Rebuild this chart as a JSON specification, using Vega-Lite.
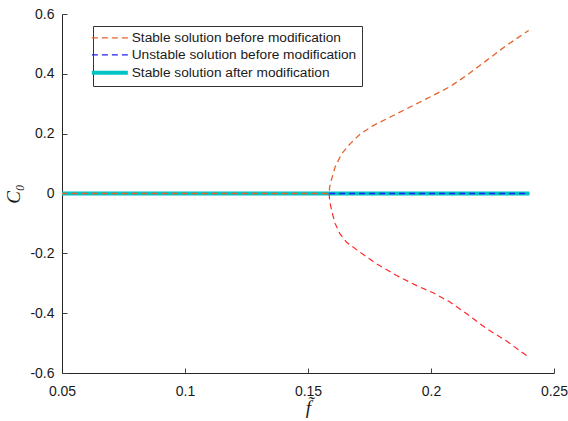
{
  "$schema": "https://vega.github.io/schema/vega-lite/v6.json",
  "width": 492,
  "height": 359,
  "autosize": "none",
  "padding": {"left": 62, "top": 14, "right": 14, "bottom": 48},
  "config": {
    "font": "Liberation Sans",
    "view": {"stroke": null},
    "axis": {
      "grid": false,
      "domainColor": "#262626",
      "tickColor": "#262626",
      "labelColor": "#1a1a1a",
      "labelFontSize": 14,
      "labelFont": "Liberation Sans",
      "labelFlush": false,
      "labelOverlap": false,
      "titleFont": "Liberation Serif",
      "titleFontStyle": "italic",
      "titleFontWeight": "normal",
      "titleFontSize": 19,
      "titleColor": "#1a1a1a",
      "tickSize": 5,
      "tickWidth": 1
    },
    "legend": {
      "orient": "none",
      "legendX": 31,
      "legendY": 12,
      "title": null,
      "symbolType": "M-1.8,0H1.8",
      "symbolSize": 400,
      "symbolOffset": 5,
      "labelFont": "Liberation Sans",
      "labelFontSize": 13.7,
      "labelColor": "#1a1a1a",
      "labelLimit": 400,
      "labelOffset": 15,
      "strokeColor": "#333333",
      "fillColor": "#ffffff",
      "padding": 5,
      "rowPadding": 2
    }
  },
  "data": {
    "values": [
      {"series": "Stable solution after modification", "f": 0.05, "C": 0},
      {"series": "Stable solution after modification", "f": 0.24, "C": 0},
      {"series": "Unstable solution before modification", "f": 0.1586, "C": 0},
      {"series": "Unstable solution before modification", "f": 0.24, "C": 0},
      {"series": "Stable solution before modification", "f": 0.05, "C": 0},
      {"series": "Stable solution before modification", "f": 0.1586, "C": 0},
      {"series": "Stable solution before modification", "f": 0.1588, "C": 0.022},
      {"series": "Stable solution before modification", "f": 0.1596, "C": 0.048},
      {"series": "Stable solution before modification", "f": 0.161, "C": 0.088},
      {"series": "Stable solution before modification", "f": 0.1637, "C": 0.133},
      {"series": "Stable solution before modification", "f": 0.1671, "C": 0.166},
      {"series": "Stable solution before modification", "f": 0.1711, "C": 0.198},
      {"series": "Stable solution before modification", "f": 0.1765, "C": 0.227},
      {"series": "Stable solution before modification", "f": 0.1833, "C": 0.255},
      {"series": "Stable solution before modification", "f": 0.1915, "C": 0.289},
      {"series": "Stable solution before modification", "f": 0.2009, "C": 0.328},
      {"series": "Stable solution before modification", "f": 0.2077, "C": 0.357},
      {"series": "Stable solution before modification", "f": 0.2145, "C": 0.395},
      {"series": "Stable solution before modification", "f": 0.2226, "C": 0.445},
      {"series": "Stable solution before modification", "f": 0.2307, "C": 0.495},
      {"series": "Stable solution before modification", "f": 0.2397, "C": 0.545},
      {"series": "lower", "f": 0.1586, "C": 0},
      {"series": "lower", "f": 0.1588, "C": -0.024},
      {"series": "lower", "f": 0.1596, "C": -0.057},
      {"series": "lower", "f": 0.161, "C": -0.1},
      {"series": "lower", "f": 0.163, "C": -0.135},
      {"series": "lower", "f": 0.1657, "C": -0.163},
      {"series": "lower", "f": 0.1711, "C": -0.196},
      {"series": "lower", "f": 0.1779, "C": -0.235},
      {"series": "lower", "f": 0.186, "C": -0.274},
      {"series": "lower", "f": 0.1942, "C": -0.308},
      {"series": "lower", "f": 0.2009, "C": -0.332},
      {"series": "lower", "f": 0.2077, "C": -0.363},
      {"series": "lower", "f": 0.2145, "C": -0.402},
      {"series": "lower", "f": 0.2226, "C": -0.452},
      {"series": "lower", "f": 0.2307, "C": -0.493},
      {"series": "lower", "f": 0.2397, "C": -0.547}
    ]
  },
  "layer": [
    {
      "transform": [{"filter": "datum.series === 'Stable solution after modification'"}],
      "mark": {"type": "line", "clip": false, "strokeWidth": 4},
      "encoding": {
        "x": {
          "field": "f", "type": "quantitative",
          "scale": {"domain": [0.05, 0.25], "nice": false, "zero": false},
          "axis": {
            "title": "f̃",
            "values": [0.05, 0.1, 0.15, 0.2, 0.25],
            "labelExpr": "replace(format(datum.value, '~g'), '−', '-')",
            "ticks": false,
            "labelPadding": 11,
            "titlePadding": 0
          }
        },
        "y": {
          "field": "C", "type": "quantitative",
          "scale": {"domain": [-0.6, 0.6], "nice": false, "zero": false},
          "axis": {
            "title": "C₀",
            "values": [-0.6, -0.4, -0.2, 0, 0.2, 0.4, 0.6],
            "labelExpr": "replace(format(datum.value, '~g'), '−', '-')",
            "ticks": false,
            "labelPadding": 8,
            "titlePadding": 6
          }
        },
        "color": {
          "field": "series", "type": "nominal",
          "scale": {
            "domain": ["Stable solution before modification", "Unstable solution before modification", "Stable solution after modification"],
            "range": ["#E5622C", "#2020F0", "#00C4C4"]
          },
          "legend": {
            "encode": {
              "symbols": {
                "update": {
                  "strokeWidth": {"signal": "datum.value === 'Stable solution after modification' ? 4 : 1.2"},
                  "strokeDash": {"signal": "datum.value === 'Stable solution after modification' ? [1, 0] : [6, 4]"}
                }
              }
            }
          }
        }
      }
    },
    {
      "transform": [{"filter": "datum.series === 'Stable solution before modification' || datum.series === 'Unstable solution before modification'"}],
      "mark": {"type": "line", "clip": false, "strokeWidth": 1.3, "strokeDash": [6, 4]},
      "encoding": {
        "x": {
          "field": "f", "type": "quantitative",
          "axis": {
            "orient": "top", "offset": -359, "values": [0.05, 0.1, 0.15, 0.2, 0.2499999],
            "labels": false, "domain": false, "title": null, "ticks": true, "tickSize": 5, "tickColor": "#404040", "tickWidth": 1
          }
        },
        "y": {
          "field": "C", "type": "quantitative",
          "axis": {
            "orient": "right", "offset": -492, "values": [-0.6, -0.4, -0.2, 0, 0.2, 0.4, 0.6],
            "labels": false, "domain": false, "title": null, "ticks": true, "tickSize": 5, "tickColor": "#404040", "tickWidth": 1
          }
        },
        "color": {"field": "series", "type": "nominal"}
      }
    },
    {
      "transform": [{"filter": "datum.series === 'lower'"}],
      "mark": {"type": "line", "clip": false, "color": "#FF2A2A", "strokeDash": [6, 4], "strokeWidth": 1.2},
      "encoding": {
        "x": {"field": "f", "type": "quantitative", "axis": null},
        "y": {"field": "C", "type": "quantitative", "axis": null}
      }
    }
  ],
  "resolve": {"axis": {"x": "independent", "y": "independent"}}
}
